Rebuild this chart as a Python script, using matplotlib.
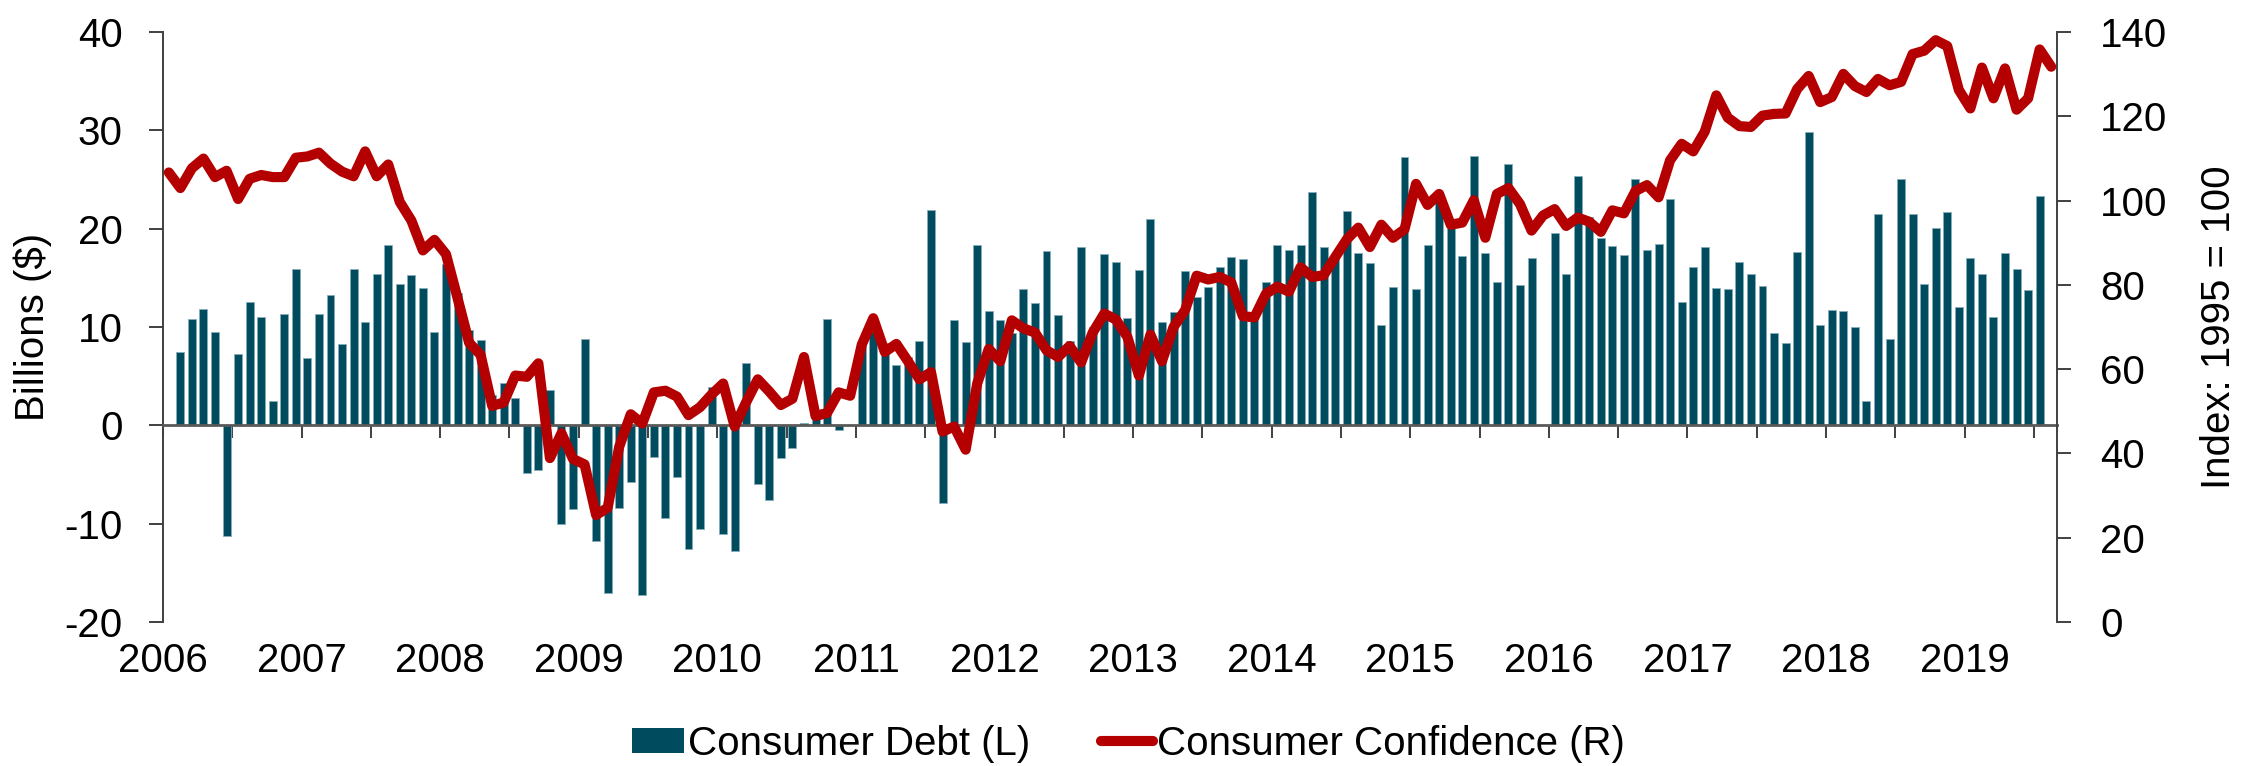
import numpy as np
import pandas as pd
import matplotlib
matplotlib.use("Agg")
import matplotlib.pyplot as plt
import matplotlib.transforms as mtransforms
from matplotlib.patches import Patch
from matplotlib.lines import Line2D

# ---------------- data ----------------
months = pd.date_range("2006-01-01", periods=164, freq="MS")   # Jan 2006 .. Aug 2019

# Consumer debt, monthly change, billions $ (Feb 2006 .. Jul 2019; Jan 2006 & Aug 2019 not shown)
consumer_debt = [np.nan,
    7.5, 10.8, 11.8, 9.5, -11.3, 7.3, 12.6, 11.0, 2.5, 11.3, 15.9,
    6.9, 11.3, 13.3, 8.3, 15.9, 10.5, 15.4, 18.4, 14.4, 15.3, 14.0, 9.5,
    16.4, 13.5, 9.7, 8.7, 3.1, 4.3, 2.8, -4.8, -4.5, 3.6, -10.0, -8.5,
    8.75, -11.8, -17.0, -8.4, -5.8, -17.3, -3.2, -9.4, -5.3, -12.6, -10.5, 3.9,
    -11.0, -12.8, 6.3, -6.0, -7.6, -3.3, -2.3, 0.2, 1.0, 10.8, -0.5, 0.0,
    8.2, 9.5, 8.4, 6.1, 7.0, 8.6, 21.9, -7.9, 10.7, 8.5, 18.3, 11.6,
    10.7, 9.4, 13.9, 12.4, 17.7, 11.2, 8.6, 18.1, 10.0, 17.4, 16.6, 10.9,
    15.8, 21.0, 10.5, 11.5, 15.7, 13.1, 14.1, 16.1, 17.1, 16.9, 11.5, 14.6,
    18.3, 17.8, 18.3, 23.7, 18.1, 17.3, 21.8, 17.5, 16.5, 10.2, 14.1, 27.3,
    13.9, 18.3, 22.7, 20.8, 17.2, 27.4, 17.5, 14.6, 26.6, 14.3, 17.0, 0.0,
    19.6, 15.4, 25.4, 21.2, 19.1, 18.2, 17.3, 25.1, 17.8, 18.5, 23.0, 12.6,
    16.1, 18.1, 14.0, 13.9, 16.6, 15.4, 14.2, 9.4, 8.4, 17.6, 29.8, 10.2,
    11.7, 11.6, 10.0, 2.5, 21.5, 8.8, 25.1, 21.5, 14.4, 20.1, 21.7, 12.0,
    17.0, 15.4, 11.0, 17.5, 15.9, 13.8, 23.3,
    np.nan]

# Consumer confidence index (1995 = 100), Jan 2006 .. Aug 2019
consumer_confidence = [
    106.7, 103.0, 107.7, 110.0, 105.6, 107.1, 100.4, 105.2, 106.1, 105.6, 105.6, 110.2,
    110.5, 111.4, 108.8, 106.9, 105.8, 111.7, 105.8, 108.6, 99.7, 95.3, 88.2, 90.7,
    87.3, 76.9, 66.3, 63.4, 51.3, 52.1, 58.5, 58.2, 61.4, 38.9, 44.8, 38.7,
    37.4, 25.4, 27.1, 41.6, 49.3, 47.1, 54.5, 54.9, 53.5, 49.1, 51.0, 54.0,
    56.6, 46.4, 52.2, 57.6, 54.7, 51.5, 53.0, 62.9, 48.9, 49.6, 54.5, 53.7,
    65.8, 72.1, 64.1, 66.0, 61.9, 57.6, 59.3, 45.2, 46.4, 40.9, 56.6, 64.8,
    61.9, 71.6, 69.7, 68.7, 64.5, 62.9, 65.5, 61.6, 68.7, 73.2, 71.8, 67.7,
    58.5, 68.2, 61.9, 70.0, 74.0, 82.2, 81.3, 81.9, 80.6, 72.6, 72.3, 77.9,
    79.6, 78.4, 84.2, 81.9, 82.3, 86.6, 90.8, 93.6, 89.0, 94.3, 91.2, 93.2,
    104.0, 99.0, 101.6, 94.3, 94.8, 100.1, 91.2, 101.6, 103.0, 99.2, 92.9, 96.5,
    98.0, 94.0, 96.0, 95.0, 92.6, 97.7, 97.0, 102.3, 103.7, 100.8, 109.6, 113.5,
    111.7, 116.4, 125.0, 119.7, 117.7, 117.5, 120.2, 120.6, 120.7, 126.5, 129.6, 123.4,
    124.6, 130.1, 127.2, 125.8, 128.9, 127.4, 128.2, 134.8, 135.6, 138.1, 136.7, 126.3,
    121.9, 131.6, 124.3, 131.4, 121.6, 124.3, 135.9, 131.8]

year_labels = [str(y) for y in range(2006, 2020)]
left_ticks = [-20, -10, 0, 10, 20, 30, 40]
right_ticks = [0, 20, 40, 60, 80, 100, 120, 140]

# ---------------- style ----------------
plt.rcParams['font.family'] = ['Liberation Sans', 'DejaVu Sans']
FS = 29
BAR_COLOR = '#014B5F'
LINE_COLOR = '#B40000'
SPINE_COLOR = '#404040'

fig = plt.figure(figsize=(22.52, 7.66), dpi=100)
ax = fig.add_axes([0.0724, 0.188, 0.8410, 0.770])
ax2 = ax.twinx()

x = np.arange(len(months))
ax.bar(x, consumer_debt, width=0.69, color=BAR_COLOR, edgecolor='#86AEBB',
       linewidth=0.6, zorder=2)
ax2.plot(x, consumer_confidence, color=LINE_COLOR, lw=7.3, solid_joinstyle='round',
         solid_capstyle='round', zorder=3)

ax.set_xlim(-0.5, len(months) - 0.5)
ax.set_ylim(-20, 40)
ax2.set_ylim(0, 140)
ax.set_yticks(left_ticks)
ax.set_yticklabels([str(v) for v in left_ticks])
ax2.set_yticks(right_ticks)
ax2.set_yticklabels([str(v) for v in right_ticks])

# spines
for s in ['top', 'right']:
    ax.spines[s].set_visible(False)
ax.spines['bottom'].set_position(('data', 0))
ax.spines['bottom'].set_color('#595959')
ax.spines['bottom'].set_linewidth(2.0)
ax.spines['left'].set_color(SPINE_COLOR)
ax.spines['left'].set_linewidth(1.4)
for s in ['top', 'left', 'bottom']:
    ax2.spines[s].set_visible(False)
ax2.spines['right'].set_color(SPINE_COLOR)
ax2.spines['right'].set_linewidth(1.4)

# x ticks every 6 months, year labels at bottom
tick_pos = [i - 0.5 for i in range(0, len(months), 6)]
ax.set_xticks(tick_pos)
ax.set_xticklabels([])
ax.tick_params(axis='x', length=9, width=1.4, color='#404040', direction='out')
trans = mtransforms.blended_transform_factory(ax.transData, ax.transAxes)
year_pos = [i - 0.5 for i in range(0, len(months), 12)]
for xp, lab in zip(year_pos, year_labels):
    ax.text(xp, -0.066, lab, transform=trans, ha='center', va='center', fontsize=FS)

ax.tick_params(axis='y', length=10, width=1.4, color=SPINE_COLOR, pad=19, labelsize=FS)
ax2.tick_params(axis='y', length=10, width=1.4, color=SPINE_COLOR, pad=21, labelsize=FS)

ax.set_ylabel('Billions ($)', fontsize=FS, va='center')
ax.yaxis.set_label_coords(-0.0686, 0.5)
ax2.set_ylabel('Index: 1995 = 100', fontsize=FS, va='center', rotation=90)
ax2.yaxis.set_label_coords(1.0855, 0.5)

handles = [Patch(facecolor=BAR_COLOR, edgecolor='none', label='Consumer Debt (L)'),
           Line2D([0], [0], color=LINE_COLOR, lw=7.3, solid_capstyle='round',
                  label='Consumer Confidence (R)')]
fig.legend(handles=handles, loc='center', bbox_to_anchor=(0.501, 0.029), ncol=2,
           frameon=False, fontsize=FS, handlelength=1.3, handleheight=0.57,
           handletextpad=0.1, columnspacing=1.75, borderpad=0, borderaxespad=0)

fig.savefig('out.png', dpi=100)
